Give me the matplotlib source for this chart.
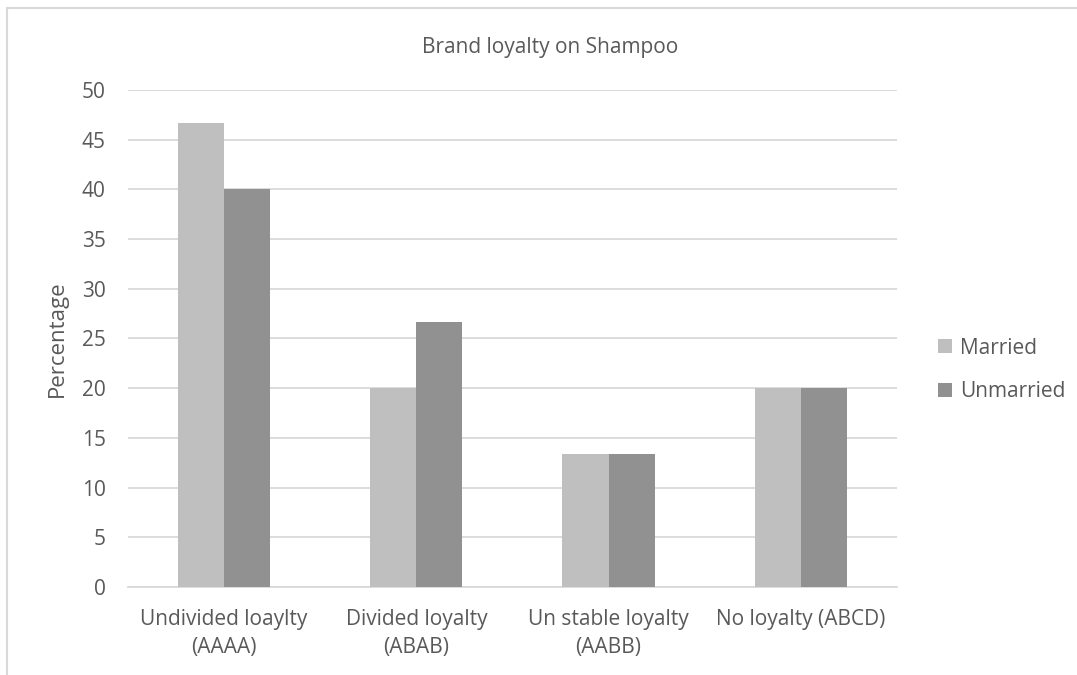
import numpy as np
import matplotlib.pyplot as plt
from matplotlib.patches import Rectangle

categories = ['Undivided loaylty\n(AAAA)', 'Divided loyalty\n(ABAB)',
              'Un stable loyalty\n(AABB)', 'No loyalty (ABCD)']
married = [46.67, 20.0, 13.33, 20.0]
unmarried = [40.0, 26.67, 13.33, 20.0]

plt.rcParams['font.family'] = ['Open Sans', 'DejaVu Sans']
text_col = '#595959'
grid_col = '#D9D9D9'

fig = plt.figure(figsize=(10.77, 6.75), dpi=100)
ax = fig.add_axes([0.1188, 0.1304, 0.714, 0.7363])

x = np.arange(len(categories))
w = 0.24
ax.bar(x - w / 2, married, w, color='#BFBFBF', label='Married', zorder=3)
ax.bar(x + w / 2, unmarried, w, color='#919191', label='Unmarried', zorder=3)

ax.set_xlim(-0.5, len(categories) - 0.5)
ax.set_ylim(0, 50)
ax.set_yticks(np.arange(0, 51, 5))
ax.set_xticks(x)
ax.set_xticklabels(categories, fontsize=15, color=text_col, linespacing=1.45)
ax.tick_params(axis='y', labelsize=15, labelcolor=text_col, length=0, pad=16)
ax.tick_params(axis='x', length=0, pad=16)
ax.grid(axis='y', color=grid_col, linewidth=1.3, zorder=0)
for s in ['top', 'right', 'left']:
    ax.spines[s].set_visible(False)
ax.spines['bottom'].set_color(grid_col)
ax.spines['bottom'].set_linewidth(1.3)

ax.set_ylabel('Percentage', fontsize=16, color=text_col, labelpad=10)

# title sits centred on the whole chart area, not the plot area
fig.text(550 / 1077, 1 - 53 / 675, 'Brand loyalty on Shampoo', fontsize=15,
         color=text_col, ha='center', va='baseline')

ax.legend(loc='center left', bbox_to_anchor=(938 / 1077, 1 - 370 / 675),
          bbox_transform=fig.transFigure, borderaxespad=0, borderpad=0,
          frameon=False, fontsize=15, labelcolor=text_col, handlelength=0.65,
          handleheight=0.65, handletextpad=0.4, labelspacing=1.1)

# outer chart border
fig.patches.append(Rectangle((7 / 1077, -0.1), 1.2, 1 - 8 / 675 + 0.1,
                             transform=fig.transFigure, fill=False,
                             edgecolor=grid_col, linewidth=1.5))

fig.savefig('out.png', dpi=100)
